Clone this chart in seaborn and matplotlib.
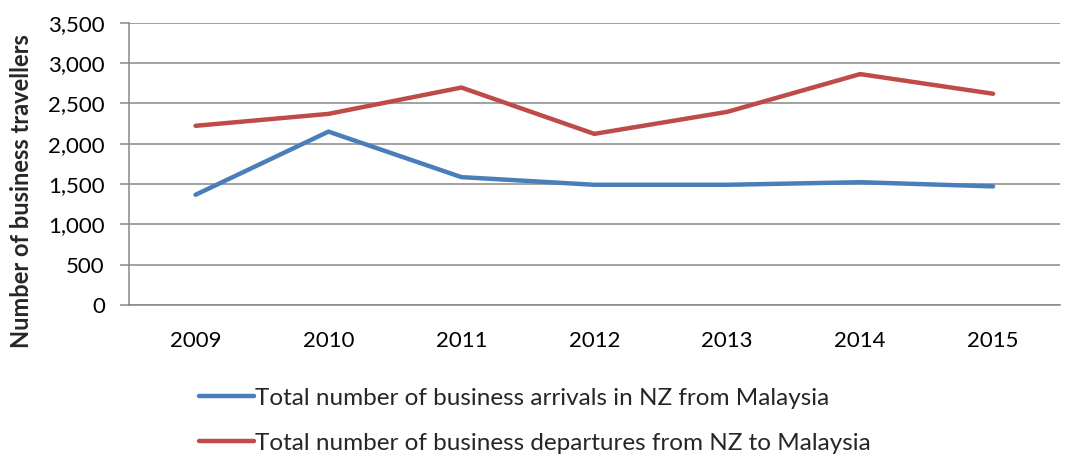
import numpy as np
import pandas as pd
import matplotlib
matplotlib.use("Agg")
import matplotlib.pyplot as plt
import seaborn as sns
from matplotlib.ticker import FuncFormatter, MultipleLocator, FixedLocator
from matplotlib.lines import Line2D

years = ["2009", "2010", "2011", "2012", "2013", "2014", "2015"]
arrivals = [1366, 2150, 1585, 1490, 1490, 1522, 1470]
departures = [2222, 2370, 2697, 2122, 2395, 2864, 2620]
series_names = ["Total number of business arrivals in NZ from Malaysia",
                "Total number of business departures from NZ to Malaysia"]
colors = ["#4A7EBB", "#BE4B48"]

df = pd.DataFrame({
    "year": years * 2,
    "x": list(range(len(years))) * 2,
    "value": arrivals + departures,
    "series": [series_names[0]] * len(years) + [series_names[1]] * len(years),
})

sns.set_style("white")
plt.rcParams["font.family"] = ["Lato", "DejaVu Sans"]
FS = 16

fig = plt.figure(figsize=(10.67, 4.57), dpi=100)
ax = fig.add_axes([0.121, 0.333, 0.872, 0.617])

sns.lineplot(data=df, x="x", y="value", hue="series", palette=colors,
             linewidth=3.2, ax=ax, legend=False, sort=False)
for ln in ax.lines:
    ln.set_solid_capstyle("round")
    ln.set_solid_joinstyle("miter")

grid_c = "#878787"
ax.set_ylim(0, 3500)
ax.set_xlim(-0.5, len(years) - 0.5)
ax.yaxis.set_major_locator(MultipleLocator(500))
ax.yaxis.set_major_formatter(FuncFormatter(lambda v, p: f"{int(v):,}"))
ax.grid(axis="y", color=grid_c, linewidth=1.1)
ax.set_axisbelow(True)

ax.set_xticks(range(len(years)))
ax.set_xticklabels(years)
ax.xaxis.set_minor_locator(FixedLocator(np.arange(-0.5, len(years), 1.0)))
ax.tick_params(axis="x", which="major", length=0, pad=19, labelsize=FS, colors="black")
ax.tick_params(axis="x", which="minor", length=6, width=1.1, color=grid_c, direction="out")
ax.tick_params(axis="y", which="major", length=6.5, width=1.1, color=grid_c, direction="out",
               pad=11, labelsize=FS, labelcolor="black", left=True)

for s in ["top", "right"]:
    ax.spines[s].set_visible(False)
for s in ["left", "bottom"]:
    ax.spines[s].set_color(grid_c)
    ax.spines[s].set_linewidth(1.1)
ax.set_xlabel("")
ax.set_ylabel("")

fig.text(0.0206, 0.582, "Number of business travellers", rotation=90, ha="center",
         va="center", fontsize=17, fontweight="bold")

handles = [Line2D([0], [0], color=c, linewidth=3.2, solid_capstyle="round") for c in colors]
leg = fig.legend(handles, series_names, loc="upper left", bbox_to_anchor=(0.1865, 0.152),
                 frameon=False, fontsize=17.5, handlelength=2.25, handletextpad=0.05,
                 labelspacing=1.0, borderpad=0, borderaxespad=0)

fig.savefig("out.png", dpi=100)
